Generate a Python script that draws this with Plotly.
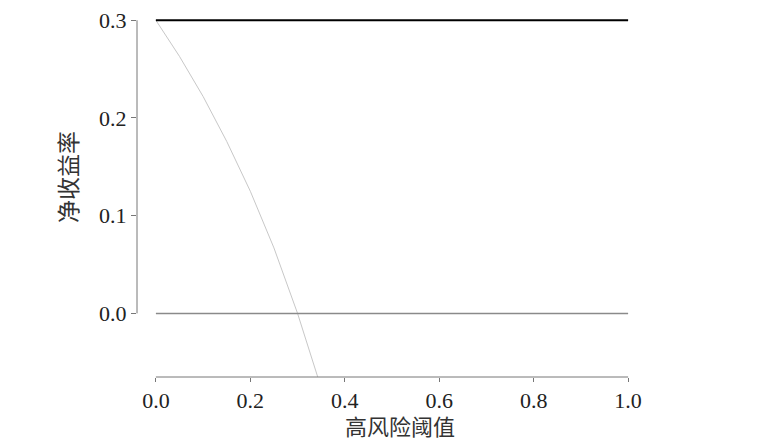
import plotly.graph_objects as go

# Data
threshold = [0.0, 0.05, 0.10, 0.15, 0.20, 0.25, 0.30, 0.344]
treat_all = [0.300, 0.263, 0.222, 0.176, 0.125, 0.067, 0.000, -0.067]
model_x = [0.0, 1.0]
model_y = [0.3, 0.3]
none_x = [0.0, 1.0]
none_y = [0.0, 0.0]

x_ticks = [0.0, 0.2, 0.4, 0.6, 0.8, 1.0]
x_labels = ["0.0", "0.2", "0.4", "0.6", "0.8", "1.0"]
y_ticks = [0.0, 0.1, 0.2, 0.3]
y_labels = ["0.0", "0.1", "0.2", "0.3"]
x_title = "高风险阈值"
y_title = "净收益率"

fig = go.Figure()
fig.add_trace(go.Scatter(x=threshold, y=treat_all, mode="lines",
                         line=dict(color="#c8c8c8", width=1), showlegend=False))
fig.add_trace(go.Scatter(x=none_x, y=none_y, mode="lines",
                         line=dict(color="#8a8a8a", width=1.5), showlegend=False))
fig.add_trace(go.Scatter(x=model_x, y=model_y, mode="lines",
                         line=dict(color="#000000", width=2), showlegend=False))

tickfont = dict(family="Liberation Serif, Times New Roman, serif", size=22, color="#222222")
fig.update_xaxes(range=[-0.04, 1.04], tickvals=x_ticks, ticktext=x_labels,
                 ticks="outside", ticklen=4, tickcolor="#777777", tickwidth=1,
                 showgrid=False, zeroline=False, showline=False, tickfont=tickfont,
                 ticklabeloverflow="allow")
fig.update_yaxes(range=[-0.0651, 0.3105], tickvals=y_ticks, ticktext=y_labels,
                 ticks="outside", ticklen=5, tickcolor="#777777", tickwidth=1,
                 showgrid=False, zeroline=False, showline=False, tickfont=tickfont,
                 ticklabeloverflow="allow")

# axis lines spanning only the tick range (R style)
fig.add_shape(type="line", xref="x", yref="paper", x0=x_ticks[0], x1=x_ticks[-1],
              y0=0, y1=0, line=dict(color="#777777", width=1))
fig.add_shape(type="line", xref="paper", yref="y", x0=0, x1=0,
              y0=y_ticks[0], y1=y_ticks[-1], line=dict(color="#777777", width=1))

titlefont = dict(family="Noto Sans CJK SC", size=22, color="#333333")
fig.add_annotation(text=x_title, xref="paper", yref="paper", x=0.516, y=-0.132,
                   yanchor="middle", showarrow=False, font=titlefont, borderpad=0)
fig.add_annotation(text=y_title, xref="paper", yref="paper", x=-0.137, y=0.545,
                   xanchor="center", yanchor="middle", textangle=-90,
                   showarrow=False, font=dict(family="Noto Sans CJK SC", size=23, color="#333333"))

fig.update_layout(width=749, height=433, margin=dict(l=129, r=110, t=0, b=64),
                  plot_bgcolor="white", paper_bgcolor="white")
fig.write_html("out.html")
